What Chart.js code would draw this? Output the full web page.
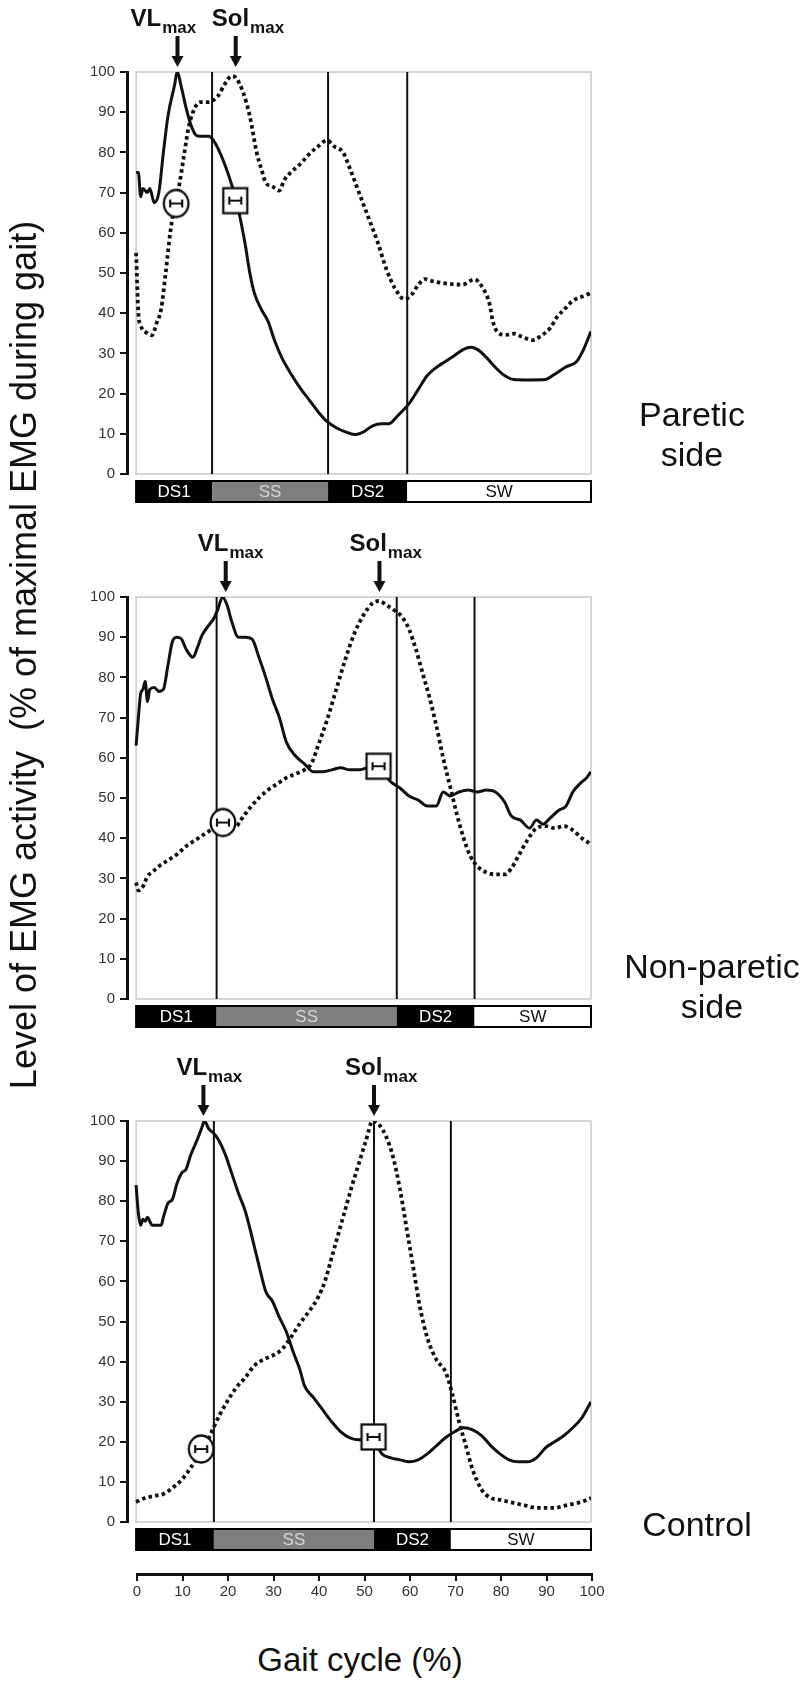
<!DOCTYPE html>
<html>
<head>
<meta charset="utf-8">
<script src="https://cdn.jsdelivr.net/npm/chart.js@4.4.0/dist/chart.umd.min.js"></script>
<style>
  body { margin: 0; background: #fff; }
  #wrap { position: relative; width: 807px; height: 1684px; overflow: hidden;
          font-family: "Liberation Sans", Arial, sans-serif; color: #111; }
  canvas { position: absolute; left: 0; }
  .side { position: absolute; width: 200px; font-size: 34px; line-height: 40px; text-align: center; }
  #ytitle { position: absolute; width: 960px; height: 42px; left: -456px; top: 634px;
            font-size: 36px; line-height: 42px; text-align: center; white-space: pre;
            transform: rotate(-90deg); }
  #xtitle { position: absolute; width: 400px; left: 160px; top: 1640px;
            font-size: 33px; line-height: 40px; text-align: center; }
</style>
</head>
<body>
<div id="wrap">
  <canvas id="c1" width="807" height="510" style="top:0px"></canvas>
  <canvas id="c2" width="807" height="520" style="top:510px"></canvas>
  <canvas id="c3" width="807" height="530" style="top:1030px"></canvas>
  <canvas id="c4" width="807" height="60" style="top:1560px"></canvas>
  <div id="ytitle">Level of EMG activity  (% of maximal EMG during gait)</div>
  <div id="xtitle">Gait cycle (%)</div>
  <div class="side" style="left:592px; top:394px">Paretic<br>side</div>
  <div class="side" style="left:612px; top:946px">Non-paretic<br>side</div>
  <div class="side" style="left:597px; top:1504px">Control</div>
</div>
<script>
// tick values
var emgTicks = [0, 10, 20, 30, 40, 50, 60, 70, 80, 90, 100];
var gaitTicks = [0, 10, 20, 30, 40, 50, 60, 70, 80, 90, 100];
var phaseNames = ['DS1', 'SS', 'DS2', 'SW'];

// paretic side: [gait %, EMG %]
var pareticVL = [[0,75],[0.5,75],[1,69],[1.5,71],[2.5,70],[3,71],[4,67.5],[5,70],[6,80],[7,89],[8.5,97],[9,100],[10,96],[11,91],[12,87],[13,84.5],[14,84],[16,84],[17,83],[18,81],[19.5,77],[21,72],[22,68],[23,63],[24,57],[25,50],[26,45],[27.5,41],[29,38],[30.5,33],[32,29],[34,25],[36,21.5],[38,18.5],[40,15.5],[42,13],[44,11.5],[46,10.5],[48,9.8],[50,10.5],[52,12],[54,12.5],[55.5,12.5],[57.5,14.5],[60,17.5],[62,21],[64,24.5],[66,26.5],[68,28],[70,29.5],[72,31],[73.5,31.5],[75,31],[77,29],[79,26.5],[81,24.5],[83,23.5],[86,23.4],[90,23.5],[91.7,24.6],[94.6,26.7],[96.8,27.9],[98.3,30.8],[100,35.5]];
var pareticSol = [[0,55],[0.5,40],[1,37],[2.5,35],[3.5,34.5],[4.5,37.5],[5.5,41],[6.5,50],[7.5,60],[8.5,67],[9.5,72],[10.5,79],[11.5,86],[12.5,90],[14,92.5],[16,92.5],[17,93],[18,94],[19.5,97],[21,99],[22,98.5],[23.5,95],[25,89],[26.5,80],[27.5,76],[28.5,72.5],[30,71.5],[31.5,70.5],[32.5,73],[34,75],[36,77],[38,79.5],[40,81.5],[42,83],[43.5,81.5],[45.5,80],[47,76],[49,70],[51,64],[53,58],[55,51],[57,46],[59,43.5],[60.5,44.5],[62,47],[63.5,48.5],[65,48],[68,47.4],[71.7,47.1],[74.4,48.4],[76.2,46.3],[77.7,42.3],[78.4,38.1],[79.5,35.2],[81.3,34.6],[83.1,34.9],[84.9,34.1],[87.1,33.3],[89.3,34.6],[91.1,36.4],[92.6,39.2],[94.1,40.9],[95.9,43],[97.3,43.8],[100,45]];

// non-paretic side
var nonpareticVL = [[0,63],[0.5,70],[1,76],[1.5,77],[2,79],[2.5,74],[3,77],[4,77.5],[5,76.5],[6,77],[7,83],[8,89],[9,90],[10,89.5],[11,87],[12.5,85],[13.5,87.5],[14.5,90.5],[16,93],[17,94.5],[18,97],[19,100],[20,98],[21,94],[22.5,90],[24,90],[25.5,89.5],[27,85],[28.5,80],[30,74.5],[31.5,70],[33,64],[35,60.5],[37,58.5],[39,56.5],[41,56.5],[43,57],[45,57.5],[47,57],[49,57],[51,57.5],[54.5,56],[56,54],[58,52.5],[60,50.5],[62,49.5],[64,48],[66,48],[67.5,51.5],[69,50.5],[71,51.5],[73,52],[75,51.5],[77,52],[79,51.5],[81,49],[82.5,45.5],[84.5,44.5],[86.5,42.5],[88,44.5],[89.5,43.5],[91,45],[93,47],[94.5,48],[96,51.5],[97.5,53.5],[99,55],[100,56.5]];
var nonpareticSol = [[0,29],[0.5,27],[1.5,28],[2.5,30.5],[3.5,31.5],[5,33],[7,34.5],[9,36],[11,38],[13,39.5],[15,41],[17,42.5],[19,44],[21,43.5],[22,43],[23,44.5],[25,47.5],[27,50],[29,52],[31,53.5],[33,55],[35,56],[37,57],[38.5,58.5],[40,63],[42,69.5],[44,77],[46,84.5],[48,91],[50,95.5],[52,98.5],[53.5,99],[55,98],[57,96.5],[58.5,95],[60,92],[61.5,87],[63,81],[64.5,75],[66,68],[67.5,60],[69,53],[70.5,46],[72,40],[73.5,35.5],[75,33],[77,31.5],[79,31],[81,31],[82.5,32.5],[84,35.5],[86,39.5],[88,42.5],[90,43],[92,42.5],[94,43],[96,42],[98,40],[100,38.5]];

// control
var controlVL = [[0,84],[0.5,77],[1,74],[1.5,75.5],[2,75],[2.5,76],[3,75],[3.5,74],[4.5,74],[5.5,74],[6,76],[7,79.5],[8,80.5],[9,84.5],[10,87],[11,88],[12,91.5],[13.5,95.5],[14.5,98.5],[15,100],[16,98],[17,97],[18,95.5],[19.5,92],[21,87],[22.5,82],[24,77.5],[25.5,71],[27,64],[28.5,57.5],[30,55],[31.5,51],[33,47.5],[34.5,42.5],[36,38],[37,34],[39,31],[41,28],[43,25],[45,22.5],[47,21],[49,20.5],[51,20.5],[52.5,20],[54,17],[56,16],[58,15.5],[60,15],[62,15.5],[64,17],[66,19],[68,21],[70,22.5],[72,23.5],[74,23],[76,21.5],[78,19],[80,17],[82,15.5],[84,15],[86,15],[88,16],[90,18.5],[92,20],[94,21.5],[96,23.5],[98,26],[100,30]];
var controlSol = [[0,5],[2,6],[4,6.5],[6,7],[8,8.5],[10,10.5],[12,13.5],[14,17],[16,21],[17,23.5],[18.5,27],[20,30],[22,33.5],[24,36],[26,39],[28,40.5],[30,41.5],[32,43],[34,46],[36,49.5],[38,52.5],[40,56],[41.5,60],[43,66],[44.5,72],[46,78],[47.5,84],[49,89.5],[50.5,95],[52,100],[53.5,99],[55,96],[56.5,91],[58,83],[59.5,73],[61,63],[62.5,53],[64,46],[66,40.5],[68,37.5],[69.5,32],[71,25],[72.5,19],[74,13],[76,8],[78,6],[80,5.5],[82,5],[84,4.5],[86,4],[88,3.5],[90,3.5],[92,3.5],[94,4],[96,4.5],[98,5],[100,6]];

// phase boundaries (DS1|SS, SS|DS2, DS2|SW), % of gait cycle
var pareticPhases = [16.7, 42.2, 59.6];
var nonpareticPhases = [17.7, 57.3, 74.4];
var controlPhases = [17.1, 52.3, 69.2];

// mean peak markers [gait %, EMG %]
var pareticCircle = [8.8, 67.3], pareticSquare = [21.8, 68];
var nonpareticCircle = [19.1, 43.9], nonpareticSquare = [53.3, 57.9];
var controlCircle = [14.3, 18.2], controlSquare = [52.2, 21.2];

// arrow positions of VLmax and Solmax
var pareticPeaks = [9.1, 21.9];
var nonpareticPeaks = [19.7, 53.5];
var controlPeaks = [14.8, 52.3];

var FONT = '"Liberation Sans", Arial, sans-serif';
Chart.defaults.font.family = FONT;
Chart.defaults.color = '#222';

function markImg(shape) {
  var c = document.createElement('canvas');
  c.width = 30; c.height = 32;
  var g = c.getContext('2d');
  g.fillStyle = '#fff'; g.strokeStyle = '#111'; g.lineWidth = 2.3;
  if (shape == 'circle') {
    g.beginPath(); g.ellipse(15, 16, 12.3, 13.5, 0, 0, Math.PI * 2); g.fill(); g.stroke();
  } else {
    g.fillRect(3, 3.5, 24, 25); g.strokeRect(3, 3.5, 24, 25);
  }
  g.lineWidth = 2.2;
  g.beginPath();
  g.moveTo(9, 16); g.lineTo(21, 16);
  g.moveTo(9, 12); g.lineTo(9, 20);
  g.moveTo(21, 12); g.lineTo(21, 20);
  g.stroke();
  return c;
}
var circleImg = markImg('circle');
var squareImg = markImg('square');

function pts(arr) { return arr.map(function (p) { return {x: p[0], y: p[1]}; }); }

var decor = {
  id: 'decor',
  beforeDatasetsDraw: function (chart, args, o) {
    var ctx = chart.ctx, x = chart.scales.x, y = chart.scales.y;
    var l = x.getPixelForValue(0), r = x.getPixelForValue(100);
    var t = y.getPixelForValue(100), b = y.getPixelForValue(0);
    ctx.save();
    ctx.strokeStyle = '#c8c8c8'; ctx.lineWidth = 1.5;
    ctx.strokeRect(l, t, r - l, b - t);
    ctx.restore();
  },
  afterDraw: function (chart, args, o) {
    var ctx = chart.ctx, x = chart.scales.x, y = chart.scales.y;
    var t = y.getPixelForValue(100), b = y.getPixelForValue(0);
    ctx.save();
    // phase bar
    var edges = [0].concat(o.phases, [100]);
    var fills = ['#000', '#7f7f7f', '#000', '#fff'];
    var inks = ['#fff', '#d4d4d4', '#fff', '#111'];
    var top = b + 7, h = 21;
    ctx.font = '17px ' + FONT; ctx.textAlign = 'center'; ctx.textBaseline = 'middle';
    for (var i = 0; i < 4; i++) {
      var a = x.getPixelForValue(edges[i]), e = x.getPixelForValue(edges[i + 1]);
      ctx.fillStyle = fills[i]; ctx.fillRect(a, top, e - a, h);
      ctx.fillStyle = inks[i]; ctx.fillText(phaseNames[i], (a + e) / 2, top + h / 2 + 1);
    }
    ctx.strokeStyle = '#000'; ctx.lineWidth = 2;
    ctx.strokeRect(x.getPixelForValue(0), top, x.getPixelForValue(100) - x.getPixelForValue(0), h);

    // arrows + labels
    var names = ['VL', 'Sol'];
    ctx.fillStyle = '#111'; ctx.textAlign = 'left'; ctx.textBaseline = 'alphabetic';
    for (var k = 0; k < 2; k++) {
      var ax = x.getPixelForValue(o.peaks[k]);
      ctx.fillRect(ax - 2, t - 36, 4, 22);
      ctx.beginPath();
      ctx.moveTo(ax - 6, t - 16); ctx.lineTo(ax + 6, t - 16); ctx.lineTo(ax, t - 5); ctx.closePath(); ctx.fill();
      var tx = ax - o.offsets[k];
      ctx.font = 'bold 24px ' + FONT;
      ctx.fillText(names[k], tx, t - 46);
      var w = ctx.measureText(names[k]).width;
      ctx.font = 'bold 17px ' + FONT;
      ctx.fillText('max', tx + w + 1, t - 39);
    }
    ctx.restore();
  }
};

function panel(id, vl, sol, phases, circle, square, peaks, offsets, padTop, padBottom) {
  var ds = [
    {data: pts([circle]), pointStyle: circleImg, showLine: false},
    {data: pts([square]), pointStyle: squareImg, showLine: false},
    {data: pts(vl), borderColor: '#111', borderWidth: 3, pointRadius: 0,
     cubicInterpolationMode: 'monotone'},
    {data: pts(sol), borderColor: '#111', borderWidth: 3.8, borderDash: [3.5, 3.2],
     pointRadius: 0, cubicInterpolationMode: 'monotone'}
  ];
  phases.forEach(function (p) {
    ds.push({data: pts([[p, 0], [p, 100]]), borderColor: '#111', borderWidth: 2, pointRadius: 0});
  });
  return new Chart(document.getElementById(id), {
    type: 'line',
    data: {datasets: ds},
    options: {
      responsive: false, animation: false, events: [],
      layout: {padding: {left: 87, right: 216, top: padTop, bottom: padBottom}},
      plugins: {legend: {display: false}, tooltip: {enabled: false},
                decor: {phases: phases, peaks: peaks, offsets: offsets}},
      scales: {
        x: {type: 'linear', min: -2, max: 100, display: false},
        y: {min: 0, max: 100,
            afterBuildTicks: function (s) { s.ticks = emgTicks.map(function (v) { return {value: v}; }); },
            afterFit: function (s) { s.width = 40; },
            ticks: {font: {size: 15}, color: '#333', padding: 5},
            grid: {drawOnChartArea: false, tickLength: 7, color: '#111', lineWidth: 2},
            border: {color: '#111', width: 3}}
      }
    },
    plugins: [decor]
  });
}

panel('c1', pareticVL, pareticSol, pareticPhases, pareticCircle, pareticSquare, pareticPeaks, [47, 24], 72, 36);
panel('c2', nonpareticVL, nonpareticSol, nonpareticPhases, nonpareticCircle, nonpareticSquare, nonpareticPeaks, [28, 30], 87, 31);
panel('c3', controlVL, controlSol, controlPhases, controlCircle, controlSquare, controlPeaks, [27, 29], 91, 38);

// shared gait cycle axis
new Chart(document.getElementById('c4'), {
  type: 'line',
  data: {datasets: []},
  options: {
    responsive: false, animation: false, events: [],
    layout: {padding: {left: 137, right: 215, top: 12, bottom: 0}},
    plugins: {legend: {display: false}, tooltip: {enabled: false}},
    scales: {
      x: {type: 'linear', min: 0, max: 100,
          afterBuildTicks: function (s) { s.ticks = gaitTicks.map(function (v) { return {value: v}; }); },
          afterFit: function (s) { s.height = 46; },
          ticks: {font: {size: 15}, color: '#333', padding: 2, maxRotation: 0, autoSkip: false},
          grid: {drawOnChartArea: false, tickLength: 7, color: '#111', lineWidth: 2},
          border: {color: '#111', width: 3}},
      y: {display: false, min: 0, max: 1}
    }
  }
});
</script>
</body>
</html>
